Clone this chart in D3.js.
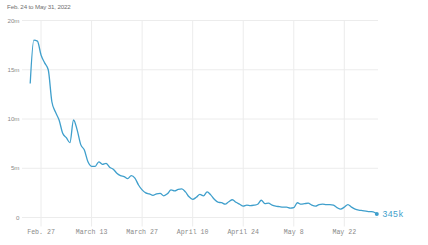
<!DOCTYPE html>
<html><head><meta charset="utf-8">
<script src="https://cdn.jsdelivr.net/npm/d3@7"></script>
<style>
html,body{margin:0;padding:0;background:#fff;}
svg{display:block;}
</style></head>
<body>
<svg id="chart" width="428" height="245"></svg>
<script>
const title = "Feb. 24 to May 31, 2022";
const startDate = [2022, 1, 24];
const values = [13.6,18.0,17.9,16.5,15.7,15.0,11.75,10.7,9.9,8.55,8.1,7.6,9.9,8.9,7.4,6.85,5.65,5.2,5.2,5.65,
5.4,5.5,5.1,4.9,4.5,4.25,4.15,3.95,4.25,4.0,3.3,2.8,2.5,2.4,2.25,2.4,2.45,2.2,2.4,2.8,
2.7,2.85,2.9,2.6,2.1,1.85,2.05,2.35,2.2,2.6,2.3,1.85,1.55,1.5,1.35,1.6,1.8,1.55,1.35,1.15,
1.25,1.2,1.25,1.35,1.75,1.4,1.45,1.25,1.15,1.1,1.05,1.05,0.95,1.0,1.5,1.35,1.4,1.45,1.25,1.15,
1.3,1.35,1.3,1.3,1.25,1.0,0.85,1.05,1.3,1.05,0.85,0.75,0.7,0.65,0.6,0.58,0.345];
const xTickDates = [[2022,1,27],[2022,2,13],[2022,2,27],[2022,3,10],[2022,3,24],[2022,4,8],[2022,4,22]];
const xTickLabels = ["Feb. 27","March 13","March 27","April 10","April 24","May 8","May 22"];
const yTicks = [0,5,10,15,20];
const yTickLabels = ["0","5m","10m","15m","20m"];
const endLabel = "345k";

const color = "#3f9fcc";
const svg = d3.select("#chart");
const day0 = Date.UTC(...startDate);
const data = values.map((v,i)=>({date:new Date(day0 + i*86400000), v}));
const x = d3.scaleUtc().domain([data[0].date, data[data.length-1].date]).range([30.2, 376.8]);
const y = d3.scaleLinear().domain([0,20]).range([217.5, 20.5]);

svg.append("text").attr("x",7).attr("y",9.2)
  .attr("font-family","Liberation Sans, Arial, sans-serif").attr("font-size",6.2)
  .attr("letter-spacing",-0.15)
  .attr("fill","#707070").text(title);

// horizontal grid
const gy = svg.append("g");
gy.selectAll("line").data(yTicks).join("line")
  .attr("x1",22).attr("x2",378).attr("y1",d=>y(d)).attr("y2",d=>y(d))
  .attr("stroke","#ececec").attr("stroke-width",1);
gy.selectAll("text").data(yTicks).join("text")
  .attr("x",19.5).attr("y",d=>y(d)+2.2).attr("text-anchor","end")
  .attr("font-family","Liberation Sans, Arial, sans-serif").attr("font-size",6.2)
  .attr("fill","#8a8a8a").text((d,i)=>yTickLabels[i]);

// vertical grid + labels
const tickDates = xTickDates.map(d=>new Date(Date.UTC(...d)));
const gx = svg.append("g");
gx.selectAll("line").data(tickDates).join("line")
  .attr("x1",d=>x(d)).attr("x2",d=>x(d)).attr("y1",y(20)).attr("y2",226.5)
  .attr("stroke","#ececec").attr("stroke-width",1);
gx.selectAll("text").data(tickDates).join("text")
  .attr("x",d=>x(d)).attr("y",234.2).attr("text-anchor","middle")
  .attr("font-family","Liberation Mono, DejaVu Sans Mono, monospace").attr("font-size",6.6)
  .attr("fill","#8a8a8a").text((d,i)=>xTickLabels[i]);

const line = d3.line().x(d=>x(d.date)).y(d=>y(d.v)).curve(d3.curveMonotoneX);
svg.append("path").datum(data).attr("d",line)
  .attr("fill","none").attr("stroke",color).attr("stroke-width",1.3)
  .attr("stroke-linejoin","round");

const last = data[data.length-1];
svg.append("circle").attr("cx",x(last.date)).attr("cy",y(last.v)).attr("r",2).attr("fill",color);
svg.append("text").attr("x",x(last.date)+5.5).attr("y",y(last.v)+3.2)
  .attr("font-family","Liberation Mono, DejaVu Sans Mono, monospace").attr("font-size",8.8)
  .attr("fill",color).text(endLabel);
</script>
</body></html>
